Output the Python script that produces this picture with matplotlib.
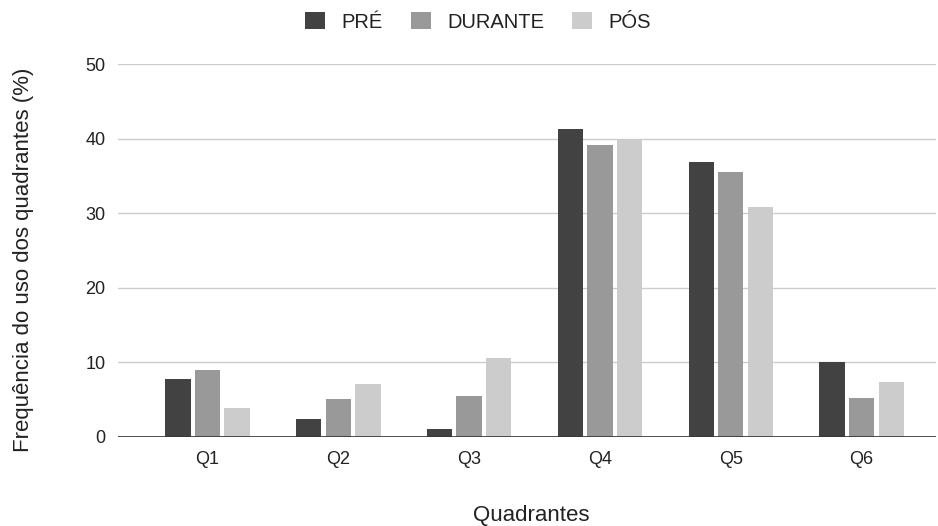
import matplotlib.pyplot as plt
import numpy as np

plt.rcParams['font.family'] = ['Liberation Sans', 'DejaVu Sans']

quadrantes = ['Q1', 'Q2', 'Q3', 'Q4', 'Q5', 'Q6']
pre = [7.7, 2.4, 1.0, 41.3, 36.8, 10.0]
durante = [9.0, 5.0, 5.4, 39.2, 35.5, 5.2]
pos = [3.9, 7.1, 10.6, 39.9, 30.8, 7.3]

series = [('PRÉ', pre, '#424242'), ('DURANTE', durante, '#999999'), ('PÓS', pos, '#cccccc')]
text_color = '#222222'

fig = plt.figure(figsize=(9.38, 5.26), dpi=100)
ax = fig.add_axes([0.1258, 0.1698, 0.872, 0.7085])

x = np.arange(len(quadrantes))
width = 0.194
step = 0.226

for i, (label, vals, color) in enumerate(series):
    ax.bar(x + (i - 1) * step, vals, width, color=color, label=label, zorder=3)

ax.set_xlim(-0.684, 5.568)
ax.set_ylim(0, 50)
ax.set_yticks([0, 10, 20, 30, 40, 50])
ax.yaxis.grid(True, color='#cccccc', linewidth=1, zorder=0)
ax.axhline(0, color='#333333', linewidth=1.2, zorder=4)
for s in ax.spines.values():
    s.set_visible(False)
ax.tick_params(length=0, labelsize=13, colors=text_color)
ax.tick_params(axis='y', pad=9)
ax.tick_params(axis='x', pad=10)
ax.set_xticks(x)
ax.set_xticklabels(quadrantes)

# axis titles placed directly in figure coordinates
fig.text(531 / 938, 1 - 515 / 526, 'Quadrantes', ha='center', va='center',
         fontsize=16, color=text_color)
fig.text(24 / 938, 1 - 260 / 526, 'Frequência do uso dos quadrantes (%)', ha='center',
         va='center', rotation=90, fontsize=16, color=text_color)

handles, labels = ax.get_legend_handles_labels()
fig.legend(handles, labels, loc='center', bbox_to_anchor=(478 / 938, 1 - 22 / 526), ncol=3,
           frameon=False, fontsize=14.5, handlelength=1.0, handleheight=0.9, columnspacing=1.4,
           handletextpad=0.8, labelcolor=text_color, borderpad=0)

plt.savefig('out.png', dpi=100, facecolor='white')
